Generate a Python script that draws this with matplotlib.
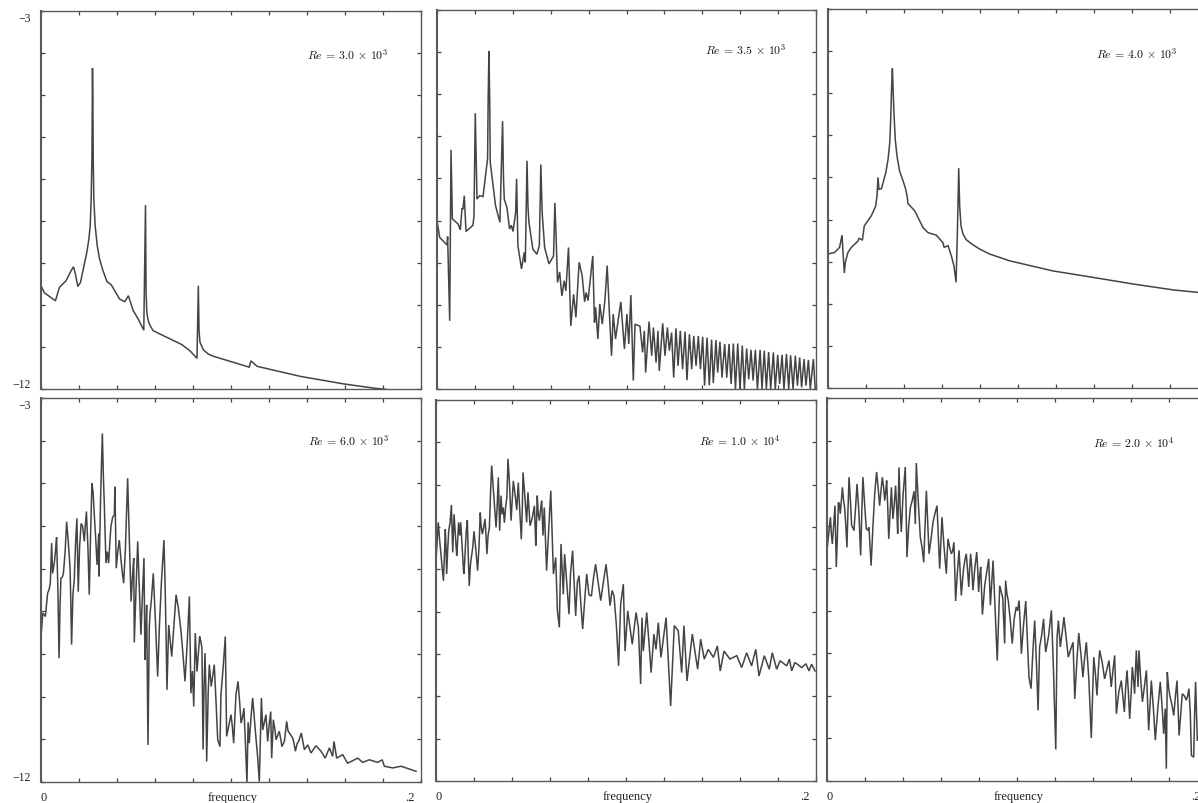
import numpy as np
import matplotlib
matplotlib.use('Agg')
import matplotlib.pyplot as plt

plt.rcParams['font.family'] = ['Liberation Serif', 'DejaVu Serif']
plt.rcParams['mathtext.fontset'] = 'cm'

# values: frequency, log10 of the spectrum
re3000_f = [0, .0018, .0076, .0097, .0132, .0159, .0171, .0181, .0194, .0208, .0241, .0252, .0259, .0264, .0268, .0270, .0271,
            .0273, .0275, .0278, .0285, .0296, .0308, .0326, .0347,
            .0370, .0414, .0441, .0460, .0485, .0511, .0541, .0550, .0553, .0557, .0564, .0573, .0590, .0626, .0740, .0784,
            .0821, .0828, .0832, .0837, .0855, .0881, .0907, .1096, .1105, .1137, .1366, .1595, .1753, .1877]
re3000_v = [-9.54, -9.71, -9.90, -9.58, -9.42, -9.18, -9.09, -9.26, -9.56, -9.46, -8.75, -8.43, -8.11, -7.48, -6.52, -5.10, -4.36,
            -5.10, -6.52, -7.48, -8.11, -8.59, -8.90, -9.18, -9.44,
            -9.52, -9.86, -9.92, -9.78, -10.13, -10.33, -10.60, -7.62, -9.70, -10.17, -10.37, -10.48, -10.61, -10.69, -10.94, -11.09,
            -11.27, -9.54, -10.65, -10.89, -11.07, -11.17, -11.22, -11.48, -11.33, -11.46, -11.70, -11.88, -11.98, -12.04]

re3500_f = [0, .0014, .0053, .0056, .0067, .0074, .0081, .0111, .0123, .0132, .0137, .0144, .0153, .0190, .0195, .0202,
            .0211, .0225, .0243, .0260, .0267, .0270, .0274, .0278, .0281, .0309, .0332, .0346, .0351, .0355, .0369, .0383, .0392, .0401,
            .0415, .0420, .0427, .0446, .0460, .0466, .0475, .0480, .0485, .0506, .0527, .0540, .0548, .0555, .0568, .0591, .0615,
            .0622, .0629, .0636, .0647, .0659, .0671, .0680, .0694, .0706, .0721, .0733, .0750, .0766, .0779, .0787, .0797,
            .0822, .0831, .0837, .0849, .0859, .0872, .0886, .0898, .0910, .0921, .0930, .0942, .0958, .0970, .0989,
            .1002, .1012, .1023]
re3500_v = [-8.00, -8.40, -8.58, -8.38, -10.38, -6.32, -7.96, -8.08, -8.22, -7.71, -7.73, -7.41, -8.26, -8.11, -7.89, -5.45,
            -7.49, -7.41, -7.43, -6.78, -6.54, -5.11, -3.98, -5.11, -6.62, -7.65, -8.04, -5.64, -7.01, -7.49, -7.69, -8.20, -8.11, -8.26,
            -7.81, -7.01, -8.60, -9.15, -8.76, -8.99, -6.58, -7.65, -8.04, -8.68, -8.80, -8.60, -6.67, -7.81, -8.64, -9.03, -8.84,
            -7.58, -8.44, -9.47, -9.22, -9.79, -9.43, -9.67, -8.64, -10.50, -9.75, -10.30, -8.99, -9.31, -9.93, -9.71, -9.90,
            -8.84, -10.42, -10.06, -10.81, -9.98, -10.46, -9.90, -9.07, -10.22, -11.21, -10.22, -10.81, -10.30, -9.93, -11.05,
            -10.22, -10.93, -9.77]
# the comb at high frequency, tops and bottoms of the teeth
comb_top_f = [.1045, .1071, .1094, .1119, .1142, .1166, .1191, .1216, .1238, .1261, .1284, .1309, .1332, .1355,
              .1379, .1402, .1425, .1449, .1472, .1493, .1518, .1541, .1564, .1587, .1611, .1634, .1657, .1680,
              .1705, .1727, .1750, .1775, .1798, .1821, .1844, .1866, .1891, .1914, .1937, .1960, .1986]
comb_top_v = [-10.46, -10.51, -10.62, -10.40, -10.54, -10.62, -10.44, -10.54, -10.66, -10.56, -10.62, -10.64, -10.70, -10.74,
              -10.74, -10.76, -10.78, -10.83, -10.84, -10.88, -10.93, -10.93, -10.92, -10.92, -10.97, -11.04, -11.07, -11.07,
              -11.07, -11.09, -11.12, -11.13, -11.19, -11.19, -11.17, -11.20, -11.21, -11.25, -11.29, -11.31, -11.29]
comb_bot_f = [.1036, .1085, .1101, .1133, .1156, .1173, .1203, .1226, .1249, .1272, .1296, .1319, .1344, .1367,
              .1390, .1412, .1437, .1458, .1481, .1504, .1529, .1552, .1575, .1599, .1622, .1645, .1668, .1691,
              .1715, .1738, .1761, .1785, .1808, .1831, .1856, .1879, .1902, .1924, .1947, .1970, .1996]
comb_bot_v = [-11.80, -11.13, -11.61, -11.21, -11.37, -11.57, -11.21, -11.09, -11.73, -11.45, -11.53, -11.79, -11.53, -11.45,
              -11.53, -11.92, -11.91, -11.86, -11.61, -11.73, -11.73, -11.88, -12.0, -12.0, -12.0, -11.77, -11.80, -12.0,
              -12.0, -12.0, -12.0, -12.0, -11.88, -12.0, -12.0, -12.0, -11.92, -11.96, -11.92, -12.0, -12.0]

re4000_f = [0, .0035, .0061, .0074, .0079, .0086, .0091, .0105, .0123, .0158, .0163, .0181, .0191, .0228, .0251, .0258, .0263, .0268,
            .0281, .0304, .0316, .0325, .0330, .0335, .0339, .0342, .0347, .0354, .0363, .0377, .0395, .0409, .0416, .0421,
            .0456, .0500, .0526, .0570, .0605, .0611, .0632, .0649, .0663, .0674, .0681, .0688, .0693, .0700, .0711, .0728,
            .0763, .0798, .0851, .0904, .0956, .1184, .1377, .1605, .1816, .1947, .2]
re4000_v = [-8.82, -8.78, -8.66, -8.37, -8.78, -9.27, -9.02, -8.78, -8.66, -8.51, -8.44, -8.49, -8.15, -7.91, -7.68, -7.44, -7.00, -7.28,
            -7.27, -6.89, -6.57, -6.18, -5.62, -4.83, -4.41, -4.83, -5.46, -6.10, -6.49, -6.85, -7.08, -7.28, -7.44, -7.62,
            -7.79, -8.19, -8.31, -8.37, -8.55, -8.66, -8.62, -8.86, -9.10, -9.49, -8.31, -6.78, -7.68, -8.15, -8.35, -8.48,
            -8.60, -8.70, -8.82, -8.90, -8.98, -9.22, -9.36, -9.53, -9.67, -9.73, -9.76]

re6000_f = [0, .0009, .0023, .0035, .0049, .0056, .0061, .0070, .0082, .0095, .0105, .0118, .0135, .0153, .0161, .0175,
            .0189, .0196, .0211, .0228, .0239, .0254, .0268, .0281, .0295, .0304, .0305, .0323, .0333, .0342, .0356,
            .0368, .0386, .0389, .0396, .0412, .0421, .0435, .0444, .0456, .0474, .0488, .0491, .0509, .0526, .0542,
            .0547, .0556, .0563, .0570, .0581, .0591, .0614, .0623, .0647, .0653, .0663, .0672, .0688, .0711, .0723,
            .0737, .0758, .0781, .0789, .0804, .0812, .0821, .0835, .0847, .0853, .0863, .0872, .0886, .0896, .0912,
            .0930, .0942, .0947, .0970, .0977, .1000, .1014, .1026, .1037, .1053, .1068, .1084, .1096, .1114, .1149,
            .1160, .1167, .1184, .1193, .1209, .1214, .1223, .1237, .1254, .1268, .1281, .1293, .1307, .1325, .1339,
            .1356, .1370, .1386, .1404, .1421, .1447, .1474, .1496, .1518, .1535, .1542, .1556, .1588, .1614, .1667,
            .1693, .1728, .1772, .1796, .1807, .1851, .1895, .1974]
re6000_v = [-8.63, -8.04, -8.12, -7.57, -7.34, -6.40, -7.11, -6.87, -6.26, -9.10, -7.22, -7.11, -5.90, -6.99, -8.78, -7.26,
            -5.82, -7.54, -5.94, -6.36, -5.66, -7.61, -5.00, -5.78, -6.91, -6.17, -7.18, -3.83, -5.47, -6.87, -6.87,
            -6.01, -5.74, -5.08, -6.99, -6.33, -6.79, -7.34, -6.56, -4.88, -7.77, -6.75, -8.73, -6.36, -8.55, -6.75,
            -9.14, -7.85, -11.13, -8.36, -7.73, -7.11, -9.53, -8.36, -6.33, -7.34, -9.84, -8.32, -9.06, -7.61, -7.93,
            -8.47, -9.64, -7.65, -9.92, -10.23, -8.51, -9.41, -8.59, -8.86, -11.24, -8.98, -11.52, -9.25, -9.76, -9.25,
            -11.01, -11.17, -9.96, -8.59, -10.93, -10.42, -11.09, -9.96, -9.64, -10.62, -10.27, -12.02, -11.09, -10.03, -11.99,
            -10.03, -10.78, -10.42, -11.05, -10.35, -11.44, -10.54, -11.01, -10.81, -11.17, -11.05, -10.58, -10.85, -10.97, -11.28,
            -11.05, -10.85, -11.24, -11.13, -11.32, -11.15, -11.28, -11.44, -11.20, -11.40, -11.05, -11.44, -11.36, -11.56, -11.44,
            -11.54, -11.48, -11.54, -11.48, -11.63, -11.67, -11.63, -11.75]
# second pass over the busy stretches, merged in by frequency below
re6000_more_f = [.0042, .0076, .0089, .0100, .0112, .0127, .0144, .0157, .0168, .0182, .0203, .0219, .0233, .0247, .0261,
                 .0274, .0288, .0315, .0328, .0338, .0349, .0362, .0377, .0404, .0428, .0450, .0465, .0481, .0500, .0517,
                 .0534, .0552, .0575, .0603, .0634, .0658, .0680, .0700, .0730, .0747, .0770, .0797, .0828, .0841, .0858,
                 .0868, .0880, .0904, .0921, .0959, .1007, .1045, .1060, .1076, .1090, .1105, .1130, .1140, .1200, .1232,
                 .1262, .1300, .1332, .1348]
re6000_more_v = [-7.5, -6.6, -7.5, -7.9, -7.2, -6.6, -6.4, -7.8, -7.6, -6.4, -6.5, -6.0, -6.0, -6.5, -6.2,
                 -5.2, -6.3, -5.1, -4.8, -6.3, -6.6, -6.4, -5.8, -6.6, -7.1, -5.7, -6.3, -7.2, -7.5, -7.4,
                 -7.6, -8.5, -8.0, -8.3, -7.3, -8.5, -8.7, -8.3, -8.2, -9.0, -8.7, -9.4, -9.0, -8.7, -9.8,
                 -9.9, -9.9, -9.5, -10.1, -9.3, -10.7, -10.1, -10.5, -11.1, -10.6, -10.5, -10.9, -11.4, -10.7, -10.8,
                 -11.0, -10.8, -11.1, -11.1]

re10000_f = [0, .0012, .0026, .0039, .0049, .0056, .0067, .0081, .0088, .0095, .0109, .0119, .0130, .0146, .0153, .0165,
             .0175, .0186, .0200, .0219, .0233, .0244, .0258, .0268, .0281, .0293, .0316, .0328, .0335, .0342, .0354,
             .0367, .0379, .0395, .0407, .0418, .0433, .0449, .0458, .0477, .0484, .0495, .0518, .0525, .0533, .0544,
             .0556, .0570, .0582, .0604, .0618, .0630, .0639, .0649, .0658, .0670, .0677, .0700, .0719, .0735, .0753,
             .0772, .0793, .0818, .0840, .0867, .0895, .0916, .0937, .0961, .0972, .0986, .0995, .1009, .1033, .1053,
             .1065, .1077, .1084, .1091, .1109, .1121, .1132, .1147, .1158, .1170, .1184, .1211, .1235, .1254, .1275,
             .1293, .1305, .1321, .1349, .1377, .1393, .1412, .1433, .1460, .1481, .1496, .1516, .1547, .1583, .1609,
             .1635, .1661, .1683, .1700, .1728, .1754, .1770, .1793, .1811, .1846, .1860, .1872, .1889, .1925, .1947,
             .1963, .1977, .1995]
re10000_v = [-6.80, -5.89, -6.64, -7.27, -6.05, -7.11, -6.09, -5.48, -6.60, -5.70, -6.68, -5.89, -5.89, -7.11, -6.64, -5.84,
             -7.39, -6.72, -6.10, -7.03, -5.66, -6.17, -5.81, -6.64, -6.01, -4.55, -6.01, -4.83, -6.09, -5.26, -5.54,
             -5.50, -4.39, -5.85, -4.91, -5.30, -4.95, -6.29, -4.71, -5.89, -5.18, -5.97, -5.50, -6.44, -5.26, -5.85,
             -5.38, -5.54, -7.03, -5.14, -7.11, -6.72, -7.98, -8.37, -6.40, -7.59, -6.64, -8.06, -6.56, -8.10, -7.15,
             -8.41, -7.11, -7.63, -6.88, -7.74, -6.88, -7.86, -7.63, -9.28, -7.82, -7.35, -8.93, -7.98, -8.77, -8.02,
             -8.37, -9.71, -8.14, -8.93, -8.02, -8.73, -9.44, -8.53, -8.89, -8.26, -9.08, -8.14, -10.23, -8.33, -8.45,
             -9.44, -8.33, -9.64, -8.53, -9.36, -8.65, -9.12, -8.89, -9.08, -8.81, -9.40, -8.93, -9.12, -9.04, -9.32,
             -8.97, -9.28, -8.89, -9.52, -9.04, -9.36, -8.97, -9.36, -9.16, -9.28, -9.12, -9.40, -9.20, -9.32, -9.23,
             -9.40, -9.24, -9.40]
re10000_more_f = [.0019, .0033, .0045, .0053, .0062, .0074, .0102, .0113, .0125, .0138, .0150, .0159, .0170, .0181, .0193,
                  .0209, .0226, .0238, .0251, .0263, .0274, .0287, .0322, .0348, .0360, .0373, .0387, .0401, .0425, .0441,
                  .0454, .0468, .0490, .0506, .0529, .0538, .0550, .0563, .0576, .0593, .0611, .0688, .0708, .0727, .0744,
                  .0762, .0783, .0805, .0829, .0853, .0881, .0905, .0927, .0949]
re10000_more_v = [-6.3, -7.0, -6.6, -6.5, -6.5, -5.9, -6.2, -6.4, -6.2, -6.5, -6.9, -6.1, -6.7, -6.9, -6.5,
                  -6.5, -6.5, -6.0, -6.0, -6.2, -6.2, -5.2, -5.5, -5.7, -5.9, -5.3, -5.0, -5.4, -5.6, -5.6,
                  -5.6, -5.3, -5.6, -5.8, -5.9, -5.7, -5.6, -6.2, -6.3, -6.1, -6.1, -7.3, -7.1, -7.3, -7.3,
                  -7.8, -7.7, -7.6, -7.2, -7.3, -7.3, -7.3, -7.5, -8.3]

re20000_f = [0, .0018, .0028, .0042, .0049, .0060, .0070, .0081, .0093, .0105, .0116, .0130, .0142, .0158, .0177, .0189,
             .0207, .0221, .0232, .0251, .0261, .0277, .0291, .0304, .0314, .0325, .0339, .0347, .0361, .0372, .0379,
             .0391, .0412, .0421, .0439, .0458, .0465, .0470, .0491, .0509, .0523, .0537, .0558, .0579, .0593, .0605,
             .0628, .0637, .0654, .0668, .0677, .0695, .0707, .0719, .0733, .0746, .0756, .0768, .0788, .0798, .0809,
             .0818, .0830, .0851, .0860, .0874, .0884, .0896, .0909, .0935, .0940, .0954, .0975, .0996, .1011, .1023,
             .1046, .1063, .1074, .1093, .1111, .1119, .1140, .1151, .1181, .1204, .1218, .1228, .1247, .1270, .1295,
             .1304, .1325, .1347, .1365, .1391, .1404, .1421, .1435, .1461, .1484, .1496, .1514, .1523, .1549, .1565,
             .1579, .1593, .1607, .1619, .1628, .1637, .1642, .1660, .1681, .1693, .1707, .1728, .1754, .1772, .1786,
             .1791, .1804, .1825, .1842, .1853, .1870, .1891, .1905, .1918, .1930, .1940, .1949]
re20000_v = [-6.58, -5.80, -6.43, -5.53, -6.97, -5.45, -5.72, -5.10, -5.57, -6.51, -4.86, -6.00, -6.11, -5.02, -6.70, -4.86,
             -6.08, -6.04, -6.94, -5.25, -4.74, -5.53, -4.86, -5.41, -4.94, -6.31, -5.10, -5.84, -5.06, -6.19, -4.63,
             -6.15, -4.62, -6.74, -5.57, -5.19, -5.96, -4.53, -6.27, -6.86, -5.18, -6.66, -5.92, -5.53, -7.01, -5.80,
             -7.13, -6.31, -6.66, -6.39, -7.77, -6.58, -7.64, -7.01, -6.66, -7.44, -6.66, -7.52, -6.62, -7.56, -6.97,
             -8.09, -7.41, -6.78, -7.87, -6.82, -7.91, -9.17, -7.41, -8.77, -7.29, -7.76, -8.77, -7.91, -7.76, -9.01,
             -7.77, -9.56, -9.83, -8.23, -10.34, -8.85, -8.19, -8.97, -7.99, -11.26, -8.23, -8.85, -8.15, -9.09, -8.74,
             -10.07, -8.52, -9.56, -8.74, -10.99, -9.09, -9.99, -8.93, -9.60, -9.17, -9.79, -9.05, -10.42, -9.64, -10.38,
             -9.40, -10.54, -9.32, -9.95, -8.93, -9.79, -8.93, -10.14, -9.40, -10.81, -9.64, -11.04, -9.67, -10.89, -11.71,
             -9.44, -9.99, -10.46, -9.64, -10.93, -9.95, -10.10, -9.83, -11.40, -11.44, -9.67, -11.04]
re20000_more_f = [.0023, .0035, .0055, .0065, .0087, .0099, .0110, .0123, .0136, .0150, .0168, .0183, .0198, .0214, .0242,
                  .0256, .0269, .0284, .0298, .0309, .0320, .0332, .0343, .0354, .0367, .0385, .0400, .0416, .0430, .0449,
                  .0480, .0500, .0516, .0530, .0548, .0569, .0586, .0599, .0616, .0632, .0645, .0661, .0686, .0701, .0713,
                  .0726, .0739, .0751, .0762, .0778, .0793, .0803, .0925, .0947, .0964, .0985, .1003, .1017, .1035, .1054,
                  .1083, .1102, .1129, .1145, .1166, .1192, .1211, .1238, .1258, .1283, .1315, .1336, .1356, .1378, .1413,
                  .1428, .1448, .1472, .1505, .1536, .1557, .1572, .1586, .1600, .1613, .1633, .1651, .1670, .1687, .1700,
                  .1718, .1741, .1763, .1780, .1798, .1815, .1834, .1848, .1862, .1881, .1898, .1912, .1935]
re20000_more_v = [-6.2, -6.0, -6.2, -5.5, -5.4, -6.0, -5.7, -5.4, -6.05, -5.6, -5.7, -5.7, -5.5, -6.1, -6.0,
                  -5.0, -5.1, -5.2, -5.1, -5.2, -5.6, -5.7, -5.5, -5.5, -5.6, -5.6, -5.3, -5.6, -6.0, -5.4,
                  -5.4, -6.5, -6.0, -5.9, -6.3, -5.7, -6.3, -6.4, -6.5, -6.7, -6.5, -6.6, -7.1, -7.1, -7.3,
                  -6.8, -7.0, -7.0, -7.0, -7.0, -7.0, -7.2, -7.7, -7.6, -8.2, -8.2, -8.0, -8.3, -8.3, -8.6,
                  -9.0, -9.2, -8.6, -8.6, -8.6, -9.4, -8.6, -8.5, -8.6, -8.9, -9.2, -9.0, -9.1, -9.6, -9.5,
                  -9.4, -9.2, -9.4, -9.4, -9.9, -10.0, -9.8, -9.9, -10.0, -9.6, -9.4, -9.6, -9.8, -10.1, -10.2,
                  -10.3, -10.3, -10.2, -10.3, -9.8, -10.2, -10.0, -10.3, -10.4, -10.0, -10.0, -10.4, -10.4]

labels = [r'$Re\,=\,3.0\,\times\,10^{3}$', r'$Re\,=\,3.5\,\times\,10^{3}$', r'$Re\,=\,4.0\,\times\,10^{3}$',
          r'$Re\,=\,6.0\,\times\,10^{3}$', r'$Re\,=\,1.0\,\times\,10^{4}$', r'$Re\,=\,2.0\,\times\,10^{4}$']


def merged(f1, v1, f2, v2):
    f = np.array(list(f1) + list(f2))
    v = np.array(list(v1) + list(v2))
    order = np.argsort(f, kind='stable')
    return f[order], v[order]


comb_f, comb_v = merged(comb_top_f, comb_top_v, comb_bot_f, comb_bot_v)
curves = [(re3000_f, re3000_v),
          (np.concatenate([re3500_f, comb_f]), np.concatenate([re3500_v, comb_v])),
          (re4000_f, re4000_v),
          merged(re6000_f, re6000_v, re6000_more_f, re6000_more_v),
          merged(re10000_f, re10000_v, re10000_more_f, re10000_more_v),
          merged(re20000_f, re20000_v, re20000_more_f, re20000_more_v)]

W, H = 1198., 804.
# left, right, top, bottom of each panel in pixels
boxes = [(41, 421, 12, 390), (437, 816, 11, 390), (828, 1208, 10, 389),
         (41, 421, 399, 783), (436, 816, 401, 782), (827, 1207, 399, 782)]
label_pos = [(.808, .886), (.815, .897), (.813, .884), (.81, .89), (.80, .895), (.808, .885)]

fig = plt.figure(figsize=(W/100, H/100), dpi=100)
ink = '#444444'
for i in range(6):
    l, r, t, b = boxes[i]
    ax = fig.add_axes([l/W, 1-b/H, (r-l)/W, (b-t)/H])
    ax.plot(curves[i][0], curves[i][1], color=ink, lw=1.1, solid_joinstyle='miter')
    ax.set_xlim(0, .2)
    ax.set_ylim(-12, -3)
    ax.set_xticks(np.arange(0, .2001, .02))
    ax.set_yticks(np.arange(-12, -2.5, 1))
    ax.tick_params(direction='in', length=3, width=.9, color=ink, top=True, right=True,
                   labelbottom=False, labelleft=False)
    for s in ax.spines.values():
        s.set_color('#5a5a5a')
        s.set_linewidth(1.0)
    ax.spines['left'].set_linewidth(1.5)
    ax.text(label_pos[i][0], label_pos[i][1], labels[i], transform=ax.transAxes, ha='center', va='center',
            fontsize=8.5, color='#111111')

    if i in (0, 3):
        ax.text(-.042, .982, '\u22123', transform=ax.transAxes, ha='center', va='center', fontsize=8.5, color='#222222')
        ax.text(-.05, .013, '\u221212', transform=ax.transAxes, ha='center', va='center', fontsize=8.5, color='#222222')
    if i >= 3:
        ax.text(.006, -.04, '0', transform=ax.transAxes, ha='center', va='center', fontsize=9, color='#222222')
        ax.text(.505, -.04, 'frequency', transform=ax.transAxes, ha='center', va='center', fontsize=9, color='#222222')
        ax.text(.97, -.04, '.2', transform=ax.transAxes, ha='center', va='center', fontsize=9, color='#222222')

fig.savefig('out.png', dpi=100)
